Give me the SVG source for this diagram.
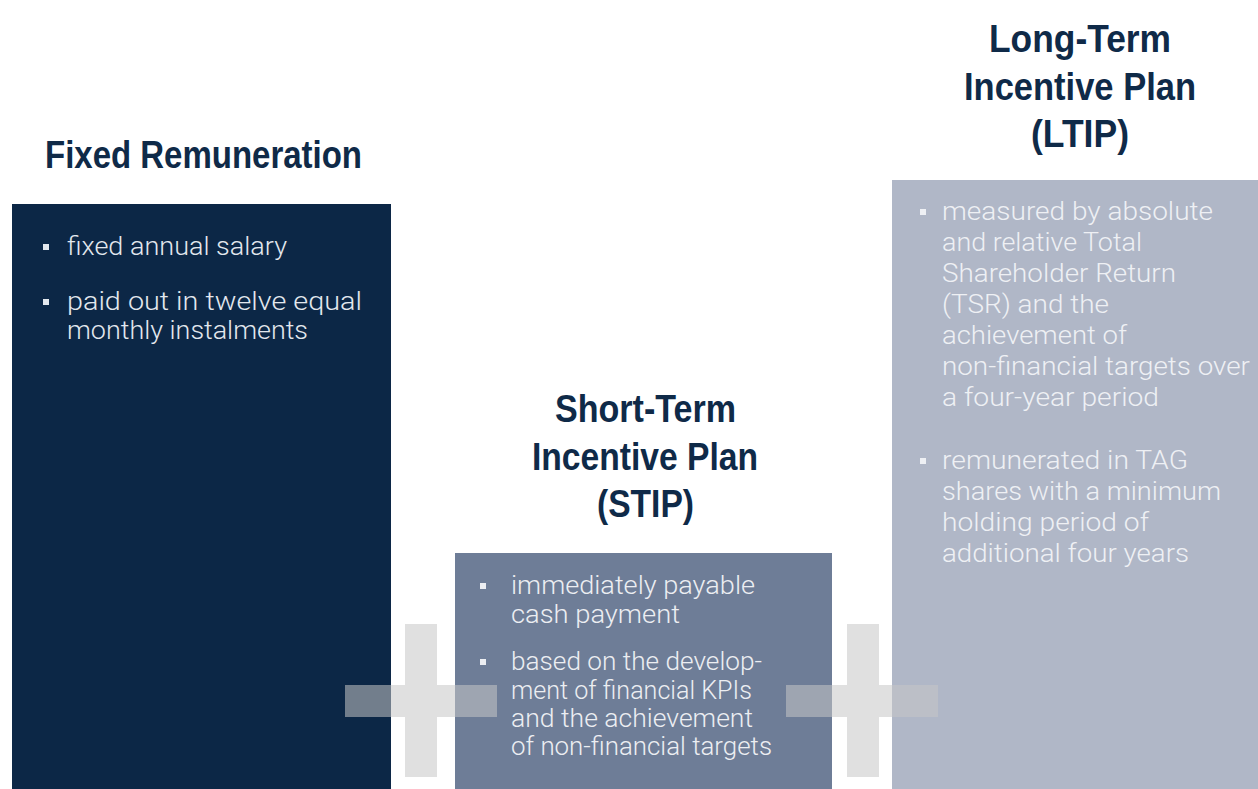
<svg xmlns="http://www.w3.org/2000/svg" width="1258" height="789" viewBox="0 0 1258 789">
<style>
.h{font-family:"Liberation Sans",Arial,sans-serif;font-weight:700;font-size:38px;fill:#0f2a48}
.b{font-family:Roboto,"Liberation Sans",sans-serif;font-weight:300;font-size:26px}
.t1{fill:#e3e8ee}
.t2{fill:#eceef2}
.t3{fill:#eef0f4}
.plus{fill:#c6c6c6;opacity:0.55}
</style>
<rect x="0" y="0" width="1258" height="789" fill="#ffffff"/>
<g id="fixed">
<text class="h" x="45" y="168" textLength="317" lengthAdjust="spacingAndGlyphs">Fixed Remuneration</text>
<rect x="12" y="204" width="379" height="585" fill="#0c2746"/>
<rect class="t1" x="43" y="244" width="6" height="6"/>
<text class="b t1" x="67" y="255" textLength="220" lengthAdjust="spacingAndGlyphs">fixed annual salary</text>
<rect class="t1" x="43" y="299" width="6" height="6"/>
<text class="b t1" x="67" y="310" textLength="295" lengthAdjust="spacingAndGlyphs">paid out in twelve equal</text>
<text class="b t1" x="67" y="339" textLength="241" lengthAdjust="spacingAndGlyphs">monthly instalments</text>
</g>
<g id="stip">
<text class="h" x="555" y="422" textLength="181" lengthAdjust="spacingAndGlyphs">Short-Term</text>
<text class="h" x="532" y="470" textLength="226" lengthAdjust="spacingAndGlyphs">Incentive Plan</text>
<text class="h" x="597" y="517" textLength="97" lengthAdjust="spacingAndGlyphs">(STIP)</text>
<rect x="455" y="553" width="377" height="236" fill="#6e7d97"/>
<rect class="t2" x="480" y="583" width="6" height="6"/>
<text class="b t2" x="511" y="594" textLength="244" lengthAdjust="spacingAndGlyphs">immediately payable</text>
<text class="b t2" x="511" y="623" textLength="169" lengthAdjust="spacingAndGlyphs">cash payment</text>
<rect class="t2" x="480" y="659" width="6" height="6"/>
<text class="b t2" x="511" y="670" textLength="251" lengthAdjust="spacingAndGlyphs">based on the develop-</text>
<text class="b t2" x="511" y="699" textLength="241" lengthAdjust="spacingAndGlyphs">ment of financial KPIs</text>
<text class="b t2" x="511" y="727" textLength="242" lengthAdjust="spacingAndGlyphs">and the achievement</text>
<text class="b t2" x="511" y="755" textLength="261" lengthAdjust="spacingAndGlyphs">of non-financial targets</text>
</g>
<g id="ltip">
<text class="h" x="989" y="52" textLength="182" lengthAdjust="spacingAndGlyphs">Long-Term</text>
<text class="h" x="964" y="100" textLength="232" lengthAdjust="spacingAndGlyphs">Incentive Plan</text>
<text class="h" x="1031" y="147" textLength="98" lengthAdjust="spacingAndGlyphs">(LTIP)</text>
<rect x="892" y="180" width="366" height="609" fill="#b0b7c7"/>
<rect class="t3" x="920" y="209" width="6" height="6"/>
<text class="b t3" x="942" y="220" textLength="271" lengthAdjust="spacingAndGlyphs">measured by absolute</text>
<text class="b t3" x="942" y="251" textLength="200" lengthAdjust="spacingAndGlyphs">and relative Total</text>
<text class="b t3" x="942" y="282" textLength="234" lengthAdjust="spacingAndGlyphs">Shareholder Return</text>
<text class="b t3" x="942" y="313" textLength="167" lengthAdjust="spacingAndGlyphs">(TSR) and the</text>
<text class="b t3" x="942" y="344" textLength="185" lengthAdjust="spacingAndGlyphs">achievement of</text>
<text class="b t3" x="942" y="375" textLength="308" lengthAdjust="spacingAndGlyphs">non-financial targets over</text>
<text class="b t3" x="942" y="406" textLength="217" lengthAdjust="spacingAndGlyphs">a four-year period</text>
<rect class="t3" x="920" y="458" width="6" height="6"/>
<text class="b t3" x="942" y="469" textLength="246" lengthAdjust="spacingAndGlyphs">remunerated in TAG</text>
<text class="b t3" x="942" y="500" textLength="279" lengthAdjust="spacingAndGlyphs">shares with a minimum</text>
<text class="b t3" x="942" y="531" textLength="207" lengthAdjust="spacingAndGlyphs">holding period of</text>
<text class="b t3" x="942" y="562" textLength="247" lengthAdjust="spacingAndGlyphs">additional four years</text>
</g>
<g id="connectors">
<rect class="plus" x="405" y="624" width="32" height="153"/>
<rect class="plus" x="345" y="685" width="60" height="32"/>
<rect class="plus" x="437" y="685" width="60" height="32"/>
<rect class="plus" x="847" y="624" width="32" height="153"/>
<rect class="plus" x="786" y="685" width="61" height="32"/>
<rect class="plus" x="879" y="685" width="59" height="32"/>
</g>
</svg>
